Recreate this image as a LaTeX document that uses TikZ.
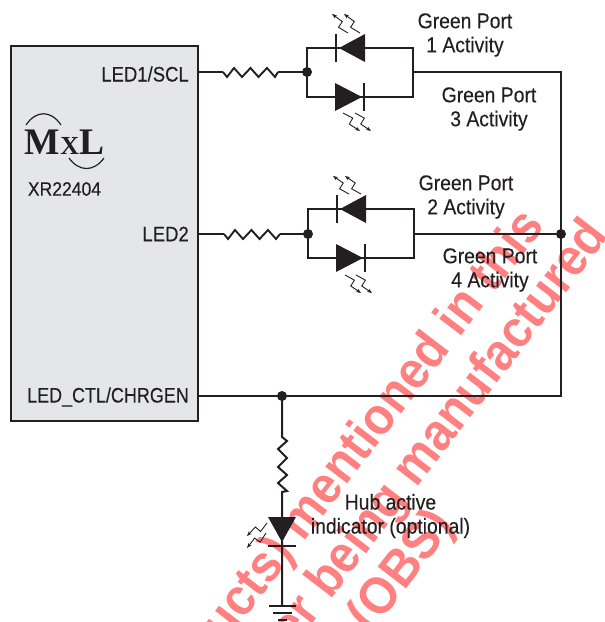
\documentclass[tikz,border=0pt]{standalone}
\usepackage{fontspec}
\setmainfont{Liberation Sans}
\newfontfamily\narrowfont[FakeStretch=0.9,FakeBold=0.25]{Liberation Sans}
\newfontfamily\wmfont[FakeStretch=0.925]{Liberation Sans Bold}
\newfontfamily\logofont{Liberation Serif}[BoldFont={Liberation Serif Bold}]
\usetikzlibrary{calc,arrows.meta}
\definecolor{ink}{HTML}{231F20}
\definecolor{chip}{HTML}{E5E6E8}
\definecolor{wm}{HTML}{FF8080}
\newcommand{\ledray}[2]{\draw[ray] (#1) -- ($(#1)!.42!(#2)!3.6pt!90:(#2)$) -- ($(#1)!.5!(#2)!3pt!-90:(#2)$) -- (#2);}
\newcommand{\hres}[2]{\draw[res] (#1) -- ++(4,5) -- ++(7,-9) -- ++(8,9) -- ++(8.5,-9) -- ++(8,9) -- ++(8.5,-9) -- ++(8,9) -- (#2);}
\tikzset{
  x=1pt,y=-1pt,
  wire/.style={draw=ink,line width=2pt,line join=miter},
  res/.style={draw=ink,line width=1.9pt,line join=miter},
  ray/.style={draw=ink,line width=.9pt,-{Stealth[length=5pt,width=3.8pt]}},
  bar/.style={draw=ink,line width=2.2pt},
  tri/.style={fill=ink,draw=none},
  dot/.style={circle,fill=ink,draw=none,inner sep=0pt,minimum size=10pt},
  lbl/.style={font=\narrowfont\fontsize{21.5}{24}\selectfont,text=ink,inner sep=0pt,align=center},
  pin/.style={font=\narrowfont\fontsize{21}{24}\selectfont,text=ink,inner sep=0pt,anchor=east},
  wmark/.style={font=\wmfont\fontsize{52}{52}\selectfont,text=wm,inner sep=0pt,anchor=base east,rotate=52.5},
}
\begin{document}
\begin{tikzpicture}
\useasboundingbox (0,0) rectangle (605,622);
\begin{scope}
\clip (0,0) rectangle (605,622);
\node[wmark] (w1) at (546,226) {ucts) mentioned in this};
\node[wmark] (w2) at (610,236) {er being manufactured};
\node[wmark] (w3) at (455,526) {l (OBS)};
\end{scope}
% chip
\node[draw=ink,fill=chip,line width=2.4pt,minimum width=187pt,minimum height=375pt,inner sep=0pt,anchor=north west] (chip) at (10,45) {};
\node[pin,xscale=.95] (l3) at (189,397) {LED\_CTL/CHRGEN};
\node[pin,xscale=.98] (l1) at (189,74) {LED1/SCL};
\node[pin,xscale=.98] (l2) at (189,234) {LED2};
\node[lbl,font=\narrowfont\fontsize{19.5}{22}\selectfont] (xr) at (64.5,189) {XR22404};
% logo
\node[inner sep=0pt,anchor=base,text=ink,font=\logofont\bfseries\fontsize{37.5}{37.5}\selectfont] (logo) at (64.5,154) {M\raisebox{0pt}{\fontsize{26}{26}\selectfont X}L};
\draw[ink,line width=1.2pt] (26,125) .. controls (36,110) and (51,110) .. (61,125);
\draw[ink,line width=1.2pt] (69,158) .. controls (79,172) and (94,172) .. (104,158);
% coordinates
\coordinate (a1) at (198,72); \coordinate (r1a) at (223,72); \coordinate (r1b) at (278,72); \coordinate (j1) at (307,72);
\coordinate (a2) at (198,234); \coordinate (r2a) at (224,234); \coordinate (r2b) at (280,234); \coordinate (j2) at (308,234);
\coordinate (o1) at (413,72); \coordinate (o2) at (414,234); \coordinate (rt) at (561,72); \coordinate (j3) at (561,234);
\coordinate (rb) at (561,396); \coordinate (a3) at (198,396); \coordinate (j4) at (282,396);
% wires
\draw[wire] (a1) -- (r1a); \hres{r1a}{r1b} \draw[wire] (r1b) -- (j1);
\draw[wire] (a2) -- (r2a); \hres{r2a}{r2b} \draw[wire] (r2b) -- (j2);
\draw[wire] (307,97) |- (413,48) |- cycle;
\draw[wire] (308,258) |- (414,209) |- cycle;
\draw[wire] (o1) -- (rt) -- (rb) -- (a3);
\draw[wire] (o2) -- (j3);
% diodes group 1
\fill[tri] (339,48) -- (365,34) -- (365,62) -- cycle; \draw[bar] (336,34) -- (336,62);
\fill[tri] (362,97) -- (335,83) -- (335,111) -- cycle; \draw[bar] (364,83) -- (364,111);
\fill[tri] (340,209) -- (366,195) -- (366,223) -- cycle; \draw[bar] (337,195) -- (337,223);
\fill[tri] (363,258) -- (336,244) -- (336,272) -- cycle; \draw[bar] (365,244) -- (365,272);
% rays
\coordinate (t1) at (348,33); \coordinate (h1) at (332,14); \coordinate (t2) at (360,33); \coordinate (h2) at (344,14);
\ledray{t1}{h1} \ledray{t2}{h2}
\coordinate (t3) at (343,113); \coordinate (h3) at (360,131); \coordinate (t4) at (355,113); \coordinate (h4) at (371,131);
\ledray{t3}{h3} \ledray{t4}{h4}
\coordinate (t5) at (349,194); \coordinate (h5) at (333,176); \coordinate (t6) at (361,194); \coordinate (h6) at (345,176);
\ledray{t5}{h5} \ledray{t6}{h6}
\coordinate (t7) at (345,275); \coordinate (h7) at (361,293); \coordinate (t8) at (356,275); \coordinate (h8) at (372,293);
\ledray{t7}{h7} \ledray{t8}{h8}
\coordinate (t9) at (267,523); \coordinate (h9) at (247,536); \coordinate (t10) at (266,533); \coordinate (h10) at (247,548);
\ledray{t9}{h9} \ledray{t10}{h10}
% bottom branch
\coordinate (r3a) at (282,437); \coordinate (r3b) at (282,492); \coordinate (g) at (282,606);
\draw[wire] (j4) -- (r3a) -- (287,441) -- (278,449) -- (287,458) -- (278,467) -- (287,475) -- (278,483) -- (287,491) -- (r3b) -- (g);
\fill[tri] (268,517) -- (296,517) -- (282,542) -- cycle;
\draw[bar] (268,546) -- (296,546);
\draw[bar] (269,606) -- (296,606);
\draw[bar] (273,613) -- (292,613);
\draw[bar] (278,620) -- (287,620);
% dots
\node[dot] (d1) at (j1) {}; \node[dot] (d2) at (j2) {}; \node[dot] (d3) at (j3) {}; \node[dot] (d4) at (j4) {};
% labels
\node[lbl] (g1) at (465,35) {Green Port\\1 Activity};
\node[lbl] (g3) at (489,109) {Green Port\\3 Activity};
\node[lbl] (g2) at (466,197) {Green Port\\2 Activity};
\node[lbl] (g4) at (490,270) {Green Port\\4 Activity};
\node[lbl] (hub) at (390.5,516) {Hub active\\indicator (optional)};
\end{tikzpicture}
\end{document}
